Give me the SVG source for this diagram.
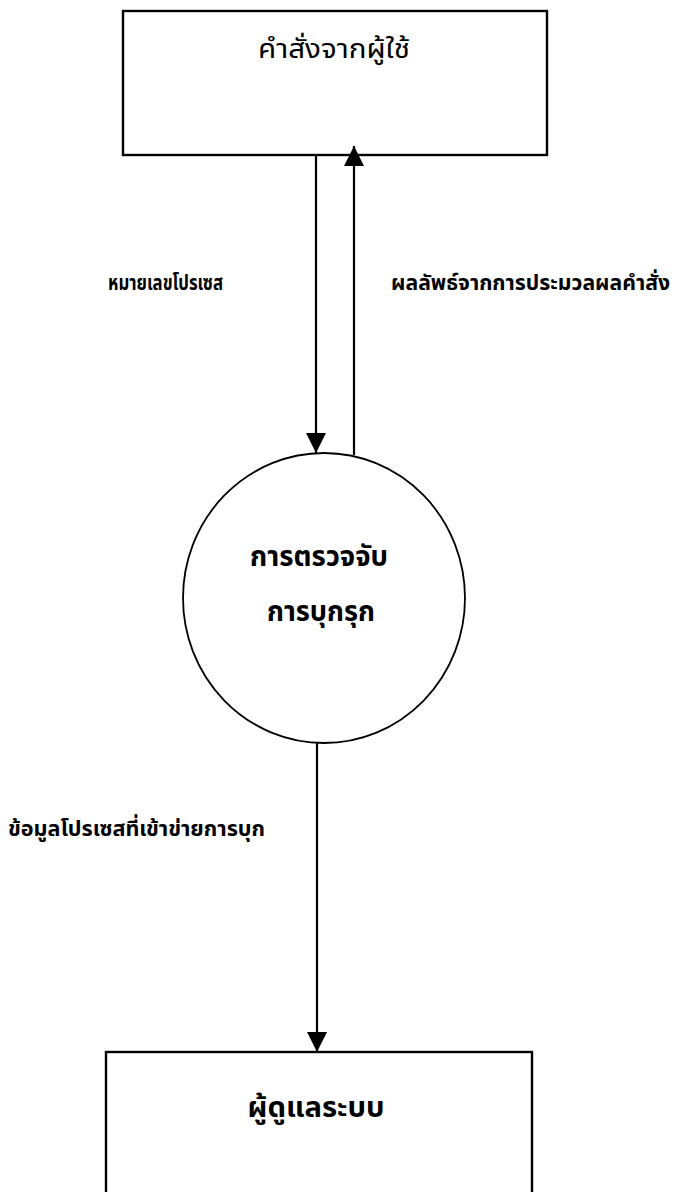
<svg xmlns="http://www.w3.org/2000/svg" width="674" height="1192" viewBox="0 0 674 1192">
<style>
.box{fill:#fff;stroke:#000;stroke-width:2.4}
.proc{fill:#fff;stroke:#000;stroke-width:1.8}
.flow{stroke:#000;stroke-width:2.2;fill:none}
.t{font-family:"Noto Sans Thai","Noto Sans Thai UI","Loma","Garuda","Tlwg Typo","Norasi","Noto Sans","DejaVu Sans",sans-serif;fill:#000}
.reg{font-size:27px;font-weight:normal}
.lbl{font-size:21px;font-weight:bold}
.big{font-size:28px;font-weight:bold}
</style>
<defs>
<marker id="ah" markerWidth="20" markerHeight="20" refX="10" refY="5" orient="auto" markerUnits="userSpaceOnUse" viewBox="0 0 10 10">
<path d="M0,0 L10,5 L0,10 Z" fill="#000"/>
</marker>
</defs>
<rect width="674" height="1192" fill="#fff"/>
<g id="user-command">
<rect class="box" x="123" y="11" width="424" height="144"/>
<text class="t reg" x="334" y="58" text-anchor="middle" textLength="152" lengthAdjust="spacingAndGlyphs">คำสั่งจากผู้ใช้</text>
</g>
<g id="intrusion-detection">
<ellipse class="proc" cx="324" cy="598" rx="141" ry="145"/>
<text class="t big" x="319" y="566" text-anchor="middle" textLength="138" lengthAdjust="spacingAndGlyphs">การตรวจจับ</text>
<text class="t big" x="321" y="621" text-anchor="middle" textLength="108" lengthAdjust="spacingAndGlyphs">การบุกรุก</text>
</g>
<g id="admin">
<rect class="box" x="106" y="1052" width="426" height="160"/>
<text class="t big" x="316" y="1117" text-anchor="middle" textLength="137" lengthAdjust="spacingAndGlyphs">ผู้ดูแลระบบ</text>
</g>
<g id="connectors">
<line class="flow" x1="316" y1="155" x2="316" y2="453" marker-end="url(#ah)"/>
<line class="flow" x1="354" y1="455" x2="354" y2="146" marker-end="url(#ah)"/>
<line class="flow" x1="317" y1="743" x2="317" y2="1052" marker-end="url(#ah)"/>
<text class="t lbl" x="108" y="290" textLength="115" lengthAdjust="spacingAndGlyphs">หมายเลขโปรเซส</text>
<text class="t lbl" x="391" y="290" textLength="279" lengthAdjust="spacingAndGlyphs">ผลลัพธ์จากการประมวลผลคำสั่ง</text>
<text class="t lbl" x="8" y="836" textLength="257" lengthAdjust="spacingAndGlyphs">ข้อมูลโปรเซสที่เข้าข่ายการบุก</text>
</g>
</svg>
